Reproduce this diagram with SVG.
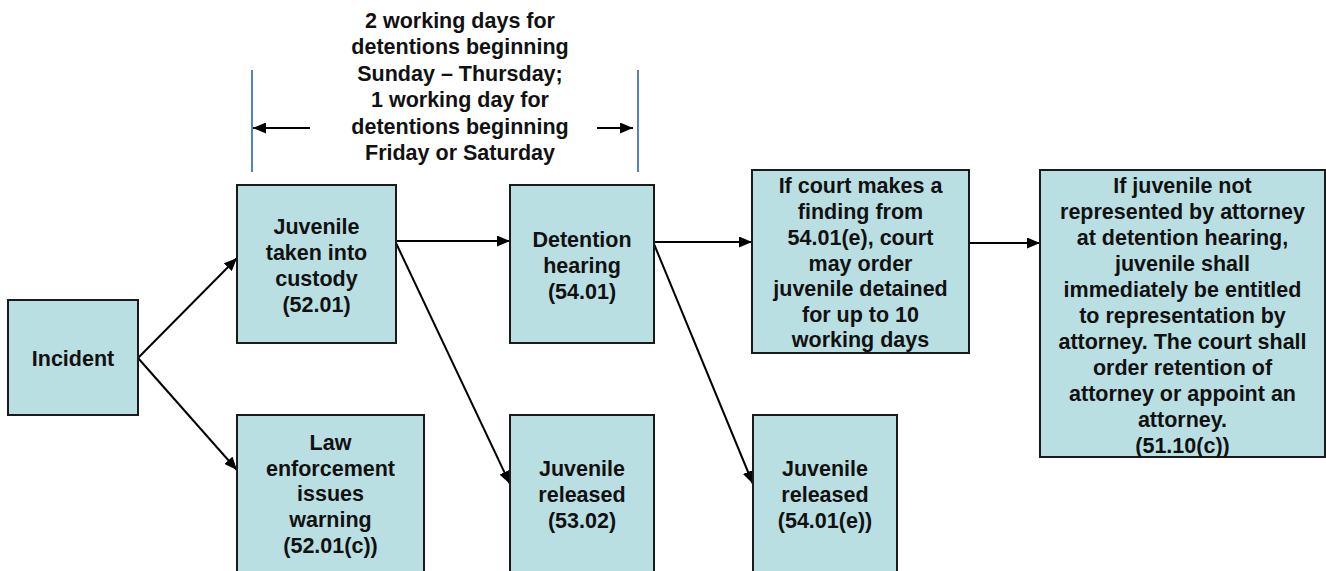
<svg xmlns="http://www.w3.org/2000/svg" width="1326" height="571" viewBox="0 0 1326 571">
<style>
.box{fill:#BADFE2;stroke:#1a1a1a;stroke-width:2}
text{font-family:"Liberation Sans",Arial,sans-serif;font-weight:bold;font-size:21.5px;fill:#111;text-anchor:middle}
.con{stroke:#000;stroke-width:2;fill:none;marker-end:url(#ah)}
.blue{stroke:#4472C4;stroke-width:1.8}
</style>
<defs>
<marker id="ah" markerUnits="userSpaceOnUse" markerWidth="13" markerHeight="11" refX="13" refY="5.5" orient="auto">
<path d="M0,0 L13,5.5 L0,11 z" fill="#000"/>
</marker>
</defs>
<rect width="1326" height="571" fill="#fff"/>

<g id="annotation">
<line class="blue" x1="252" y1="70" x2="252" y2="172"/>
<line class="blue" x1="638" y1="70" x2="638" y2="172"/>
<line class="con" x1="310" y1="128" x2="253" y2="128"/>
<line class="con" x1="597" y1="128" x2="633" y2="128"/>
<text x="460" y="27.5">2 working days for</text>
<text x="460" y="54">detentions beginning</text>
<text x="460" y="80.5">Sunday – Thursday;</text>
<text x="460" y="107">1 working day for</text>
<text x="460" y="133.5">detentions beginning</text>
<text x="460" y="160">Friday or Saturday</text>
</g>

<g id="connectors">
<line class="con" x1="138" y1="358" x2="237" y2="258"/>
<line class="con" x1="138" y1="358" x2="237" y2="470"/>
<line class="con" x1="396" y1="241" x2="510" y2="241"/>
<line class="con" x1="396" y1="243" x2="510" y2="484"/>
<line class="con" x1="654" y1="242" x2="752" y2="242"/>
<line class="con" x1="654" y1="244" x2="753" y2="484"/>
<line class="con" x1="969" y1="243" x2="1040" y2="243"/>
</g>

<g id="incident">
<rect class="box" x="8" y="300" width="130" height="115"/>
<text x="73" y="365.5">Incident</text>
</g>

<g id="custody">
<rect class="box" x="237" y="185" width="159" height="158"/>
<text x="316.5" y="234">Juvenile</text>
<text x="316.5" y="260">taken into</text>
<text x="316.5" y="286">custody</text>
<text x="316.5" y="312">(52.01)</text>
</g>

<g id="warning">
<rect class="box" x="237" y="415" width="187" height="170"/>
<text x="330.5" y="449.5">Law</text>
<text x="330.5" y="475.5">enforcement</text>
<text x="330.5" y="501">issues</text>
<text x="330.5" y="527">warning</text>
<text x="330.5" y="553">(52.01(c))</text>
</g>

<g id="detention">
<rect class="box" x="510" y="185" width="144" height="158"/>
<text x="582" y="246.5">Detention</text>
<text x="582" y="273">hearing</text>
<text x="582" y="298.5">(54.01)</text>
</g>

<g id="released1">
<rect class="box" x="510" y="415" width="144" height="170"/>
<text x="582" y="475.5">Juvenile</text>
<text x="582" y="501.5">released</text>
<text x="582" y="527.5">(53.02)</text>
</g>

<g id="court">
<rect class="box" x="752" y="170" width="217" height="183"/>
<text x="860.5" y="192.5">If court makes a</text>
<text x="860.5" y="219">finding from</text>
<text x="860.5" y="244.5">54.01(e), court</text>
<text x="860.5" y="270.5">may order</text>
<text x="860.5" y="296">juvenile detained</text>
<text x="860.5" y="321.5">for up to 10</text>
<text x="860.5" y="347">working days</text>
</g>

<g id="released2">
<rect class="box" x="753" y="415" width="144" height="170"/>
<text x="825" y="475.5">Juvenile</text>
<text x="825" y="501.5">released</text>
<text x="825" y="527.5">(54.01(e))</text>
</g>

<g id="attorney">
<rect class="box" x="1040" y="170" width="285" height="287"/>
<text x="1182.5" y="192.5">If juvenile not</text>
<text x="1182.5" y="218.5">represented by attorney</text>
<text x="1182.5" y="244.5">at detention hearing,</text>
<text x="1182.5" y="270.5">juvenile shall</text>
<text x="1182.5" y="296.5">immediately be entitled</text>
<text x="1182.5" y="322.5">to representation by</text>
<text x="1182.5" y="348.5">attorney. The court shall</text>
<text x="1182.5" y="374.5">order retention of</text>
<text x="1182.5" y="400.5">attorney or appoint an</text>
<text x="1182.5" y="426.5">attorney.</text>
<text x="1182.5" y="452.5">(51.10(c))</text>
</g>
</svg>
